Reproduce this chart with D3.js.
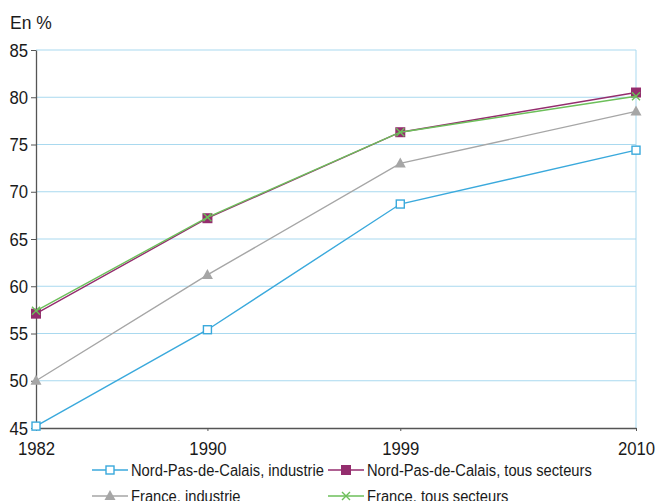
<!DOCTYPE html>
<html>
<head>
<meta charset="utf-8">
<script src="https://cdn.jsdelivr.net/npm/d3@7"></script>
<style>
  html, body { margin: 0; padding: 0; background: #fff; }
  svg { display: block; }
  text { font-family: "Liberation Sans", Arial, Helvetica, sans-serif; fill: #1a1a1a; }
</style>
</head>
<body>
<svg id="chart" width="656" height="501"></svg>
<script>
// Years on the horizontal axis
const years = [1982, 1990, 1999, 2010];
// Share (%) for each series
const npdcIndustrie = [45.2, 55.4, 68.7, 74.4];
const npdcTous = [57.1, 67.2, 76.3, 80.5];
const franceIndustrie = [50.0, 61.2, 73.0, 78.5];
const franceTous = [57.4, 67.3, 76.3, 80.1];
const yTicks = [45, 50, 55, 60, 65, 70, 75, 80, 85];
const seriesNames = [
  "Nord-Pas-de-Calais, industrie",
  "Nord-Pas-de-Calais, tous secteurs",
  "France, industrie",
  "France, tous secteurs"
];

const series = [
  { name: seriesNames[0], values: npdcIndustrie, color: "#3aa9dc", marker: "square-open" },
  { name: seriesNames[1], values: npdcTous, color: "#942d6e", marker: "square" },
  { name: seriesNames[2], values: franceIndustrie, color: "#a6a6a6", marker: "triangle" },
  { name: seriesNames[3], values: franceTous, color: "#6cbf5a", marker: "cross" }
];

const svg = d3.select("#chart");
const plotLeft = 36, plotRight = 636, plotTop = 50, plotBottom = 428;
// Condensed look for the labels
const narrow = 0.88;

const x = d3.scaleLinear().domain([1982, 2010]).range([plotLeft, plotRight]);
const y = d3.scaleLinear().domain([45, 85]).range([plotBottom, plotTop]);

// Horizontal gridlines
svg.append("g").selectAll("line").data(yTicks.filter(t => t > 45)).join("line")
  .attr("x1", plotLeft).attr("x2", plotRight)
  .attr("y1", d => y(d)).attr("y2", d => y(d))
  .attr("stroke", "#a9d9ef").attr("stroke-width", 1);

// Right boundary line
svg.append("line")
  .attr("x1", plotRight).attr("x2", plotRight).attr("y1", plotTop).attr("y2", plotBottom)
  .attr("stroke", "#a9d9ef").attr("stroke-width", 1);

// Y axis
const yAxis = svg.append("g").attr("transform", `translate(${plotLeft},0)`)
  .call(d3.axisLeft(y).tickValues(yTicks).tickSize(5).tickSizeOuter(0).tickPadding(4).tickFormat(d3.format("d")));
yAxis.select(".domain").attr("stroke", "#555").attr("stroke-width", 1.3);
yAxis.selectAll(".tick line").attr("stroke", "#555");
yAxis.selectAll(".tick text").attr("font-size", 19).attr("fill", "#1a1a1a")
  .attr("font-family", "'Liberation Sans', Arial, sans-serif")
  .attr("transform", `scale(${narrow},1)`);

// X axis
const xAxis = svg.append("g").attr("transform", `translate(0,${plotBottom})`)
  .call(d3.axisBottom(x).tickValues(years).tickSize(3).tickSizeOuter(0).tickPadding(11).tickFormat(d3.format("d")));
xAxis.select(".domain").attr("stroke", "#555").attr("stroke-width", 1.3);
xAxis.selectAll(".tick line").attr("stroke", "#555");
xAxis.selectAll(".tick text").attr("font-size", 19).attr("fill", "#1a1a1a")
  .attr("font-family", "'Liberation Sans', Arial, sans-serif")
  .attr("transform", `scale(${narrow},1)`);

// Unit label
svg.append("text").attr("transform", `translate(10,29) scale(${narrow + 0.04},1)`)
  .attr("font-size", 19).text("En %");

function drawMarker(g, type, color, cx, cy) {
  if (type === "square-open") {
    g.append("rect").attr("x", cx - 4).attr("y", cy - 4).attr("width", 8).attr("height", 8)
      .attr("fill", "#fff").attr("stroke", color).attr("stroke-width", 1.4);
  } else if (type === "square") {
    g.append("rect").attr("x", cx - 5).attr("y", cy - 5).attr("width", 10).attr("height", 10)
      .attr("fill", color);
  } else if (type === "triangle") {
    g.append("path").attr("d", `M${cx},${cy - 6}L${cx + 5.5},${cy + 4}L${cx - 5.5},${cy + 4}Z`)
      .attr("fill", color);
  } else if (type === "cross") {
    g.append("path").attr("d", `M${cx - 4},${cy - 4}L${cx + 4},${cy + 4}M${cx - 4},${cy + 4}L${cx + 4},${cy - 4}`)
      .attr("stroke", color).attr("stroke-width", 1.4).attr("fill", "none");
  }
}

const line = d3.line().x(d => x(d.year)).y(d => y(d.value));

series.forEach(s => {
  const pts = years.map((yr, i) => ({ year: yr, value: s.values[i] }));
  const g = svg.append("g");
  g.append("path").datum(pts).attr("d", line)
    .attr("fill", "none").attr("stroke", s.color).attr("stroke-width", 1.4);
  pts.forEach(p => drawMarker(g, s.marker, s.color, x(p.year), y(p.value)));
});

// Legend (two columns, two rows)
const legendPos = [[92, 470], [328, 470], [92, 496], [328, 496]];
series.forEach((s, i) => {
  const [lx, ly] = legendPos[i];
  const g = svg.append("g");
  g.append("line").attr("x1", lx).attr("x2", lx + 36).attr("y1", ly).attr("y2", ly)
    .attr("stroke", s.color).attr("stroke-width", 1.4);
  drawMarker(g, s.marker, s.color, lx + 18, ly);
  g.append("text").attr("transform", `translate(${lx + 39},${ly + 6}) scale(0.92,1)`)
    .attr("font-size", 16).text(s.name);
});
</script>
</body>
</html>
